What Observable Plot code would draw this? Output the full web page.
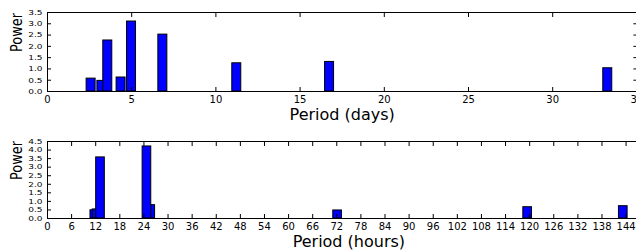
<!DOCTYPE html>
<html><head><meta charset="utf-8">
<script src="https://cdn.jsdelivr.net/npm/d3@7"></script>
<script src="https://cdn.jsdelivr.net/npm/@observablehq/plot@0.6"></script>
<style>
body{margin:0;background:#fff;}
#wrap{position:relative;width:636px;height:250px;overflow:hidden;background:#fff;}
#top{position:absolute;left:0;top:0;width:660px}
#bot{position:absolute;left:0;top:125px;width:660px}
</style></head><body><div id="wrap"><div id="top"></div><div id="bot"></div></div>
<script>
// Top panel: periods in days
const dayPeriods = [2.59, 3.23, 3.58, 4.37, 4.99, 6.85, 11.24, 16.75, 33.27];
const dayPower   = [0.57, 0.47, 2.26, 0.62, 3.10, 2.52, 1.25, 1.31, 1.03];
const dayTicks = [0, 5, 10, 15, 20, 25, 30, 35];
const dayPowerTicks = [0, 0.5, 1.0, 1.5, 2.0, 2.5, 3.0, 3.5];

// Bottom panel: periods in hours
const hourPeriods = [11.77, 12.34, 13.19, 25.7, 24.75, 72.2, 119.5, 143.3];
const hourPower   = [0.48, 0.53, 3.57, 0.78, 4.21, 0.47, 0.66, 0.72];
const hourTicks = [0, 6, 12, 18, 24, 30, 36, 42, 48, 54, 60, 66, 72, 78, 84, 90, 96, 102, 108, 114, 120, 126, 132, 138, 144, 150];
const hourPowerTicks = [0, 0.5, 1.0, 1.5, 2.0, 2.5, 3.0, 3.5, 4.0, 4.5];

const f1 = d3.format(".1f");
const font = {fontFamily: "DejaVu Sans", background: "white", color: "black", overflow: "visible", maxWidth: "none"};

function panel({periods, power, xTicks, yTicks, xDomain, yDomain, width, marginRight, marginTop, marginBottom, barW, xlabel, yFont}) {
  const idx = periods.map((_, i) => i);
  const svg = Plot.plot({
    width, height: 125, marginLeft: 47, marginRight, marginTop, marginBottom,
    style: font,
    x: {domain: xDomain},
    y: {domain: yDomain},
    marks: [
      Plot.rect(idx, {x1: i => periods[i] - barW / 2, x2: i => periods[i] + barW / 2, y1: 0, y2: i => power[i], fill: "#0000ff", stroke: "black", strokeWidth: 1}),
      Plot.frame({stroke: "black", strokeWidth: 1}),
      Plot.axisX(xTicks, {anchor: "bottom", tickSize: -4, tickPadding: 8, fontSize: 10, tickFormat: d => String(d)}),
      Plot.axisX(xTicks, {anchor: "top", tickSize: -4, tickFormat: () => ""}),
      Plot.axisY(yTicks, {anchor: "left", tickSize: -4, tickPadding: 9, fontSize: yFont, tickFormat: f1}),
      Plot.axisY(yTicks, {anchor: "right", tickSize: -4, tickFormat: () => ""}),
      Plot.text([xlabel], {text: d => d, frameAnchor: "bottom", dy: 28.5, fontSize: 16}),
      Plot.text(["Power"], {text: d => d, frameAnchor: "left", rotate: -90, dx: -31, fontSize: 16})
    ]
  });
  svg.style.maxWidth = "none";
  d3.select(svg).selectAll("text").filter(function() { return this.textContent === "Power"; })
    .attr("textLength", 39).attr("lengthAdjust", "spacingAndGlyphs");
  // squash y tick labels vertically like the reference
  d3.select(svg).selectAll("text").filter(function() { return /^\d\.\d$/.test(this.textContent); })
    .each(function() {
      const t = this.getAttribute("transform") || "";
      this.setAttribute("transform", t + " scale(1,0.8)");
    });
  return svg;
}

document.getElementById("top").append(panel({
  periods: dayPeriods, power: dayPower, xTicks: dayTicks, yTicks: dayPowerTicks,
  xDomain: [0, 35], yDomain: [0, 3.5], width: 640, marginRight: 3.6, marginTop: 12, marginBottom: 34,
  barW: 0.534, xlabel: "Period (days)", yFont: 9
}));
document.getElementById("bot").append(panel({
  periods: hourPeriods, power: hourPower, xTicks: hourTicks, yTicks: hourPowerTicks,
  xDomain: [0, 150], yDomain: [0, 4.5], width: 652, marginRight: 2.3, marginTop: 16, marginBottom: 32,
  barW: 2.15, xlabel: "Period (hours)", yFont: 9
}));
</script>
</body></html>
